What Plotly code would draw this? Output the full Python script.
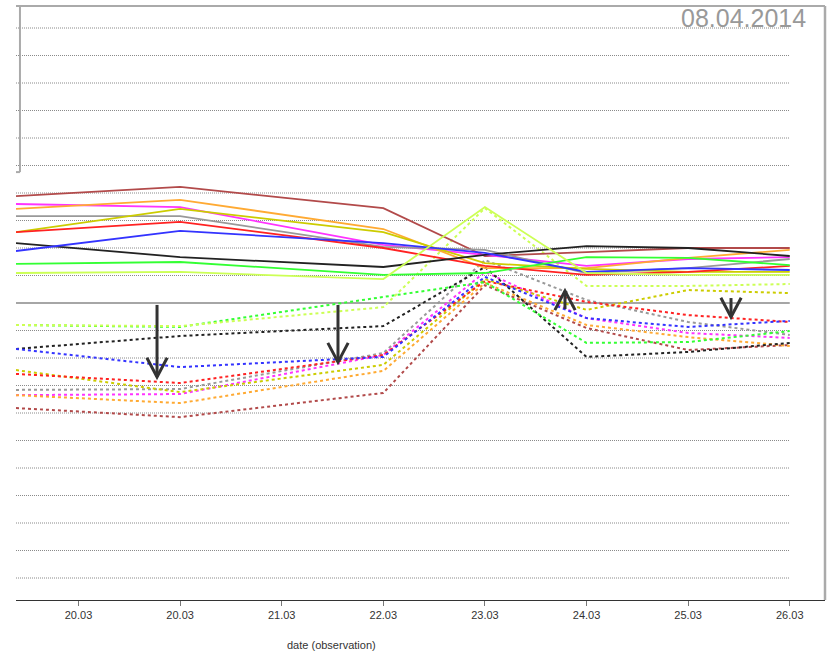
import plotly.graph_objects as go

# x positions (category index; first point sits at the left edge of the plot)
x_pos = [-0.615, 1, 3, 4, 5, 6, 7]
tick_vals = [0, 1, 2, 3, 4, 5, 6, 7]
tick_text = ["20.03", "20.03", "21.03", "22.03", "23.03", "24.03", "25.03", "26.03"]

series_names = ["brown", "magenta", "orange", "gray", "yellow", "red", "black", "blue", "green", "greenyellow"]
series_colors = ["#b24a4a", "#ff33ff", "#ffaa33", "#999999", "#cccc00", "#ff2222", "#222222", "#3333ff", "#33ff33", "#ccff55"]

# solid (observed) series, values in index units
solid_brown = [38.9, 42.2, 34.5, 17.1, 18.5, 20.0, 20.0]
solid_magenta = [36.0, 34.9, 21.1, 17.5, 13.5, 16.0, 16.7]
solid_orange = [34.2, 37.5, 26.9, 12.7, 12.7, 16.4, 19.3]
solid_gray = [31.6, 31.6, 20.4, 19.3, 10.9, 12.7, 16.0]
solid_yellow = [25.8, 34.2, 25.8, 14.5, 12.4, 11.3, 11.3]
solid_red = [25.8, 29.5, 20.0, 13.5, 10.2, 11.3, 13.5]
solid_black = [21.8, 16.7, 13.1, 17.5, 20.7, 20.0, 17.1]
solid_blue = [18.9, 26.2, 21.8, 18.2, 11.3, 12.7, 12.0]
solid_green = [14.2, 14.9, 10.2, 10.9, 16.7, 16.4, 13.8]
solid_greenyellow = [10.9, 11.3, 8.7, 34.9, 10.9, 10.2, 10.2]

# dotted (forecast) series
dot_brown = [-38.2, -41.5, -32.7, 6.5, -9.1, -17.1, -15.3]
dot_magenta = [-33.5, -33.1, -18.9, 11.3, -5.5, -10.9, -12.7]
dot_orange = [-33.5, -36.4, -24.7, 7.3, -8.0, -12.4, -15.6]
dot_gray = [-31.6, -31.3, -18.2, 15.6, 1.1, -6.9, -11.6]
dot_yellow = [-24.4, -32.4, -22.5, 8.7, -2.5, 4.7, 3.6]
dot_red = [-25.8, -29.1, -18.9, 8.0, 0.4, -4.4, -6.9]
dot_black = [-16.7, -12.0, -8.4, 13.1, -19.6, -17.8, -14.5]
dot_blue = [-16.7, -23.3, -19.6, 9.5, -5.5, -8.7, -6.5]
dot_green = [-8.0, -8.7, 2.2, 7.6, -14.5, -14.2, -10.2]
dot_greenyellow = [-8.0, -8.4, -1.5, 34.5, 6.2, 6.2, 6.9]

solid_values = [solid_brown, solid_magenta, solid_orange, solid_gray, solid_yellow,
                solid_red, solid_black, solid_blue, solid_green, solid_greenyellow]
dot_values = [dot_brown, dot_magenta, dot_orange, dot_gray, dot_yellow,
              dot_red, dot_black, dot_blue, dot_green, dot_greenyellow]

grid_levels = [v for v in range(-100, 101, 10) if v != 0]

# arrows: x, tail y, tip y
arrows = [(0.773, -0.7, -26.9), (2.554, -0.7, -21.5), (4.788, -2.2, 4.4), (6.422, 1.8, -5.1)]

X_MIN, X_MAX = -0.615, 7.347
Y_MIN, Y_MAX = -108, 108

fig = go.Figure()

shapes = []
for g in grid_levels:
    shapes.append(dict(type="line", xref="x", yref="y", x0=X_MIN, x1=7, y0=g, y1=g,
                       line=dict(color="#8a8a8a", width=1, dash="1px,1px"), layer="below"))
shapes.append(dict(type="line", xref="x", yref="y", x0=X_MIN, x1=7, y0=0, y1=0,
                   line=dict(color="#888888", width=1.5), layer="below"))

for name, col, vals in zip(series_names, series_colors, dot_values):
    fig.add_trace(go.Scatter(x=x_pos, y=vals, mode="lines", name=name + " forecast",
                             line=dict(color=col, width=2, dash="dot"), showlegend=False,
                             hoverinfo="skip"))
for name, col, vals in zip(series_names, series_colors, solid_values):
    fig.add_trace(go.Scatter(x=x_pos, y=vals, mode="lines", name=name,
                             line=dict(color=col, width=1.8), showlegend=False))

# arrows
ac = "#333333"
wing_dx = 0.1
for ax, y_tail, y_tip in arrows:
    direction = 1 if y_tip > y_tail else -1
    wing_y = y_tip - direction * 7.0
    shapes.append(dict(type="line", xref="x", yref="y", x0=ax, x1=ax, y0=y_tail, y1=y_tip,
                       line=dict(color=ac, width=3)))
    shapes.append(dict(type="path", xref="x", yref="y",
                       path=f"M {ax - wing_dx} {wing_y} L {ax} {y_tip} L {ax + wing_dx} {wing_y}",
                       line=dict(color=ac, width=3)))

# frame pieces
shapes.append(dict(type="line", xref="paper", yref="paper", x0=0, x1=1, y0=1, y1=1,
                   line=dict(color="#aaaaaa", width=2)))
shapes.append(dict(type="line", xref="paper", yref="paper", x0=1, x1=1, y0=0, y1=1,
                   line=dict(color="#aaaaaa", width=2.5)))
shapes.append(dict(type="line", xref="x", yref="y", x0=-0.576, x1=-0.576, y0=47.6, y1=Y_MAX,
                   line=dict(color="#aaaaaa", width=2)))
shapes.append(dict(type="line", xref="x", yref="y", x0=X_MIN, x1=-0.576, y0=47.6, y1=47.6,
                   line=dict(color="#aaaaaa", width=2)))

fig.update_layout(
    width=827, height=656,
    margin=dict(l=16, r=2, t=6, b=56),
    paper_bgcolor="white", plot_bgcolor="white",
    shapes=shapes,
    xaxis=dict(range=[X_MIN, X_MAX], tickvals=tick_vals, ticktext=tick_text,
               showgrid=False, zeroline=False, showline=True, linecolor="#333333", linewidth=1,
               ticks="outside", ticklen=5, tickcolor="#777777",
               tickfont=dict(family="Liberation Sans Narrow, Liberation Sans, Arial", size=11, color="#333333")),
    yaxis=dict(range=[Y_MIN, Y_MAX], showgrid=False, zeroline=False, showticklabels=False,
               showline=False, ticks=""),
    annotations=[
        dict(text="08.04.2014", xref="paper", yref="paper", x=0.979, y=0.98,
             xanchor="right", yanchor="middle", showarrow=False,
             font=dict(family="Liberation Sans, Arial", size=25, color="#999999")),
        dict(text="date (observation)", xref="paper", yref="paper", x=0.3906, y=-0.0758,
             xanchor="center", yanchor="middle", showarrow=False,
             font=dict(family="Liberation Sans Narrow, Liberation Sans, Arial", size=11, color="#333333")),
    ],
)

fig.write_html("out.html")
